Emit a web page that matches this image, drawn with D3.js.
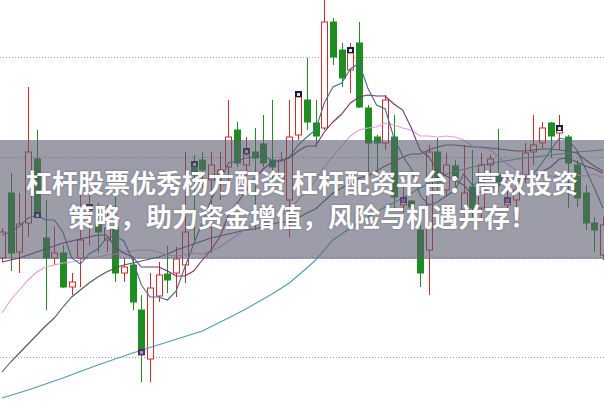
<!DOCTYPE html>
<html><head><meta charset="utf-8">
<script src="https://cdn.jsdelivr.net/npm/d3@7"></script>
<style>html,body{margin:0;padding:0;background:#fff;overflow:hidden}svg{display:block}</style>
</head><body><svg id="c" width="604" height="401"></svg>
<script>
// ---- data (prices) ----
const days = d3.range(70);
const open = [12.99,13.64,13.05,13.34,13.98,13.19,12.99,13.04,12.70,12.99,
13.47,13.32,13.17,13.30,12.84,12.92,12.47,11.98,12.61,12.83,
12.84,12.92,13.92,13.97,13.77,13.82,13.90,14.27,13.92,14.05,
14.13,13.97,13.77,13.57,14.22,14.57,14.34,14.29,15.35,15.07,
14.87,15.14,14.49,14.20,14.14,14.20,13.52,13.56,13.27,13.07,
14.05,13.67,13.91,13.47,13.70,13.49,13.92,13.82,13.52,13.57,
13.82,14.05,14.14,14.34,14.24,14.20,13.92,13.64,13.34,13.02];
const close = [13.25,13.04,13.33,14.05,13.45,12.99,13.04,12.70,12.75,13.17,
13.51,13.25,13.29,12.84,12.90,12.55,12.02,12.69,12.82,12.77,
12.98,13.25,13.82,13.87,13.92,13.87,14.20,13.94,14.02,13.99,
13.94,13.90,13.97,14.20,14.60,14.35,14.21,15.35,15.00,14.79,
15.04,14.50,14.14,14.14,14.57,13.60,13.59,13.50,12.84,14.05,
13.75,13.92,13.79,13.64,13.49,13.92,13.98,13.75,13.57,13.67,
14.04,14.12,14.29,14.21,14.30,13.94,13.59,13.34,13.27,13.32];
const high = [13.29,13.84,13.64,14.70,14.27,13.57,13.30,13.12,12.84,13.64,
13.62,13.54,13.52,13.60,12.99,12.99,12.62,12.84,12.95,13.11,
13.10,14.05,14.02,14.05,14.05,14.05,14.57,14.35,14.20,14.29,
14.42,14.57,14.05,14.57,14.65,14.99,14.57,15.62,15.39,15.14,
15.14,15.35,14.52,14.22,14.62,14.42,13.70,13.57,13.47,14.12,
14.19,14.04,13.97,14.12,14.07,14.04,14.02,14.28,13.67,13.85,
14.14,14.42,14.35,14.35,14.42,14.22,13.97,13.72,13.40,13.40];
const low = [12.95,12.86,12.84,13.20,13.39,12.47,12.92,12.69,12.62,12.70,
13.12,13.04,13.05,12.75,12.75,12.47,11.75,11.75,12.55,12.64,
12.60,12.74,13.17,13.70,13.04,13.57,13.70,13.90,13.80,13.27,
13.90,13.77,13.70,13.20,14.17,14.27,14.10,14.27,14.92,14.70,
14.64,14.49,13.80,13.80,14.07,13.47,13.44,13.44,12.70,12.62,
13.67,13.62,13.70,13.35,13.40,13.37,13.80,13.64,13.47,13.44,
13.74,13.92,14.09,13.99,14.07,13.49,13.50,13.27,13.05,12.97];
const ma5 = [13.22,13.25,13.31,13.39,13.42,13.37,13.37,13.25,12.99,12.93,
13.03,13.08,13.19,13.21,13.16,12.97,12.72,12.60,12.60,12.57,
12.66,12.90,13.13,13.34,13.57,13.75,13.94,13.96,13.99,14.00,
14.02,13.96,13.96,14.00,14.12,14.20,14.27,14.54,14.70,14.74,
14.88,14.94,14.69,14.52,14.48,14.19,14.01,13.88,13.62,13.52,
13.55,13.61,13.67,13.83,13.72,13.75,13.76,13.76,13.74,13.78,
13.80,13.83,13.94,14.07,14.19,14.17,14.07,13.88,13.69,13.49];
const ma10 = [12.95,12.97,12.99,13.02,13.05,13.08,13.11,13.14,13.16,13.18,
13.20,13.22,13.22,13.10,13.04,13.00,12.90,12.90,12.90,12.86,
12.81,12.81,12.86,12.97,13.07,13.20,13.42,13.54,13.66,13.79,
13.88,13.95,13.96,13.99,14.06,14.11,14.11,14.25,14.35,14.43,
14.54,14.60,14.62,14.61,14.61,14.53,14.47,14.29,14.07,14.00,
13.87,13.81,13.77,13.72,13.62,13.65,13.69,13.71,13.79,13.75,
13.78,13.80,13.85,13.90,13.98,13.99,13.95,13.91,13.88,13.84];
const ma20 = [12.44,12.57,12.67,12.77,12.85,12.90,12.92,12.94,12.95,12.97,
12.99,13.00,13.02,13.03,13.05,13.06,13.07,13.07,13.05,13.02,
13.01,13.02,13.04,13.03,13.06,13.10,13.16,13.22,13.28,13.32,
13.35,13.38,13.41,13.48,13.57,13.66,13.77,13.90,14.01,14.11,
14.21,14.27,14.29,14.30,14.34,14.32,14.29,14.27,14.21,14.21,
14.20,14.21,14.20,14.17,14.11,14.09,14.08,14.00,13.93,13.87,
13.82,13.80,13.81,13.81,13.80,13.82,13.82,13.81,13.83,13.79];
const ma30 = [11.85,11.95,12.04,12.13,12.22,12.31,12.39,12.50,12.60,12.67,
12.74,12.80,12.85,12.89,12.92,12.94,12.96,12.98,13.00,13.03,
13.07,13.10,13.13,13.16,13.19,13.21,13.23,13.25,13.27,13.28,
13.30,13.33,13.35,13.35,13.39,13.44,13.48,13.56,13.64,13.69,
13.74,13.79,13.81,13.86,13.91,13.95,14.00,14.03,14.03,14.07,
14.10,14.12,14.12,14.11,14.10,14.10,14.09,14.08,14.07,14.06,
14.06,14.07,14.08,14.08,14.07,14.06,14.04,13.97,13.91,13.86];
const ma60Idx = [0,3,7,11,15,19,23,26,28,31,33,35,36,38,40,42,44,46,48,51,54,57,60,63,66,69];
const ma60Val = [11.59,11.67,11.79,11.92,12.04,12.15,12.26,12.39,12.48,12.63,12.74,12.89,12.97,13.17,13.29,13.40,13.50,13.59,13.69,13.83,13.90,13.95,13.99,14.02,14.05,14.07];
const markIdx = [4,10,16,22,28,34,40,46,58,64];
const markVal = [13.42,13.50,12.05,13.93,14.06,14.63,15.07,13.57,13.57,14.29];
const markKind = ["d","d","p","d","d","d","d","p","p","d"];
const gridTicks = [12,13,14,15];
const titleLines = ["杠杆股票优秀杨方配资 杠杆配资平台：高效投资","策略，助力资金增值，风险与机遇并存！"];

// ---- drawing ----
const W = 604, H = 401;
const svg = d3.select("#c");
const x = d3.scaleBand().domain(days).range([-2.36, 607.34]).paddingInner(0.36).paddingOuter(0.18);
const cx = i => x(i) + x.bandwidth()/2;
const y = d3.scaleLinear().domain([12, 15]).range([357, 57]);
const RED = "#d22b2b", GREEN = "#1e8e22";

// grid
svg.append("g").selectAll("line").data(gridTicks).join("line")
  .attr("x1",0).attr("x2",W).attr("y1",d=>Math.round(y(d))+0.5).attr("y2",d=>Math.round(y(d))+0.5)
  .attr("stroke","#9a9a9a").attr("stroke-width",1).attr("stroke-dasharray","1,2");

const candles = days.map(i=>({i,o:open[i],c:close[i],h:high[i],l:low[i],up:close[i]>=open[i]}));
const g = svg.append("g");
g.selectAll("line.w").data(candles).join("line").attr("class","w")
  .attr("x1",d=>Math.round(cx(d.i))+0.5).attr("x2",d=>Math.round(cx(d.i))+0.5)
  .attr("y1",d=>y(d.h)).attr("y2",d=>y(d.l))
  .attr("stroke",d=>d.up?RED:GREEN).attr("stroke-width",1);
g.selectAll("rect.b").data(candles).join("rect").attr("class","b")
  .attr("x",d=>Math.round(cx(d.i))-2.5).attr("width",6)
  .attr("y",d=>y(Math.max(d.o,d.c))).attr("height",d=>Math.max(1.5,Math.abs(y(d.o)-y(d.c))))
  .attr("fill",d=>d.up?"#ffffff":GREEN).attr("stroke",d=>d.up?RED:GREEN).attr("stroke-width",1);

// moving averages
const lineGen = d3.line().x(d=>cx(d[0])).y(d=>y(d[1]));
const series = [
  {pts: ma60Idx.map((k,j)=>[k,ma60Val[j]]), color:"#4f9ea8"},
  {pts: days.map(i=>[i,ma30[i]]), color:"#4f5a4f"},
  {pts: days.map(i=>[i,ma20[i]]), color:"#e59ae4"},
  {pts: days.map(i=>[i,ma10[i]]), color:"#7a3070"},
  {pts: days.map(i=>[i,ma5[i]]), color:"#3e7189"}
];
svg.append("g").selectAll("path").data(series).join("path")
  .attr("d",d=>lineGen(d.pts)).attr("fill","none").attr("stroke",d=>d.color).attr("stroke-width",1.1);

// signal markers
const mk = svg.append("g").selectAll("g").data(markIdx.map((k,j)=>({k,v:markVal[j],t:markKind[j]}))).join("g")
  .attr("transform",d=>`translate(${Math.round(cx(d.k))-3},${Math.round(y(d.v))-3})`);
mk.append("rect").attr("width",7).attr("height",6).attr("fill",d=>d.t==="p"?"#5a2a6e":"#14203a");
mk.append("rect").attr("x",2).attr("y",2).attr("width",3).attr("height",3).attr("fill",d=>d.t==="p"?"#b58ad0":"#d8e4f0");

// banner
svg.append("rect").attr("x",0).attr("y",140).attr("width",W).attr("height",119)
  .attr("fill","#5c5c70").attr("fill-opacity",0.6);
svg.append("g").selectAll("text").data(titleLines).join("text")
  .attr("x",302).attr("y",(d,i)=>181+i*34).attr("text-anchor","middle").attr("dominant-baseline","central")
  .attr("fill","#ffffff").attr("font-family","'Noto Sans CJK SC','Noto Sans',sans-serif")
  .attr("font-weight","bold").attr("font-size",26)
  .style("text-shadow","0 0 2px rgba(40,40,60,0.5)")
  .text(d=>d);
</script></body></html>
